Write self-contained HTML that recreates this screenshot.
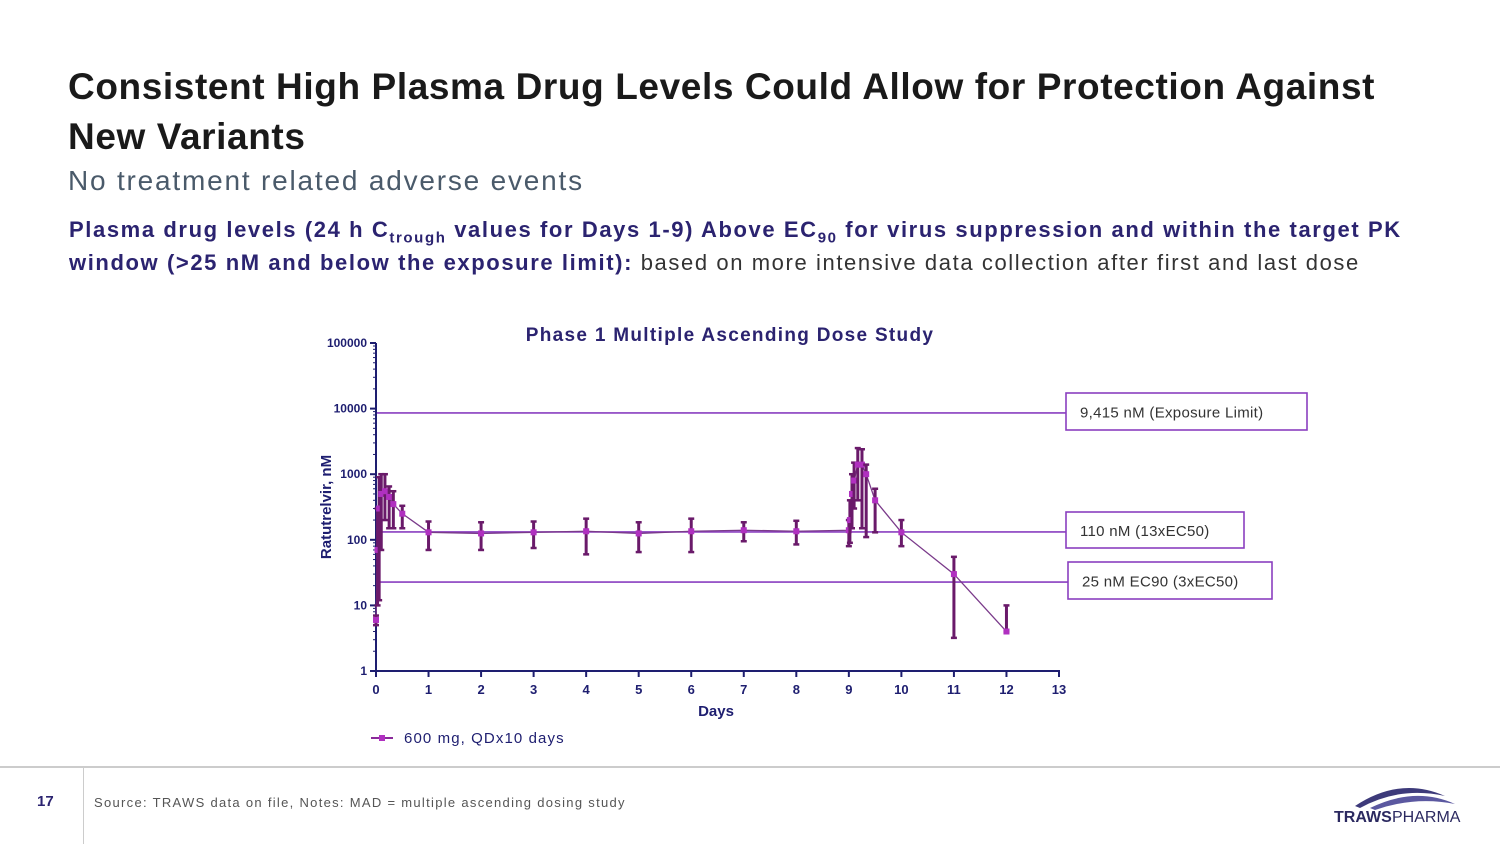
<!DOCTYPE html>
<html><head><meta charset="utf-8">
<style>
body{margin:0;width:1500px;height:844px;background:#fff;font-family:"Liberation Sans",sans-serif;position:relative;overflow:hidden}
.t{position:absolute;white-space:nowrap}
sub{line-height:0}
</style></head><body>
<div class="t" style="left:68px;top:62px;font-size:37px;font-weight:bold;color:#1a1a1a;line-height:50px;letter-spacing:0.6px">Consistent High Plasma Drug Levels Could Allow for Protection Against<br>New Variants</div>
<div class="t" style="left:68px;top:165px;font-size:28px;color:#4a5a6a;letter-spacing:1.8px">No treatment related adverse events</div>
<div class="t" style="left:69px;top:213px;font-size:22px;color:#2b2370;line-height:33px;letter-spacing:1.6px"><b>Plasma drug levels (24 h C<sub style="font-size:15px">trough</sub> values for Days 1-9) Above EC<sub style="font-size:15px">90</sub> for virus suppression and within the target PK</b><br><b>window (&gt;25 nM and below the exposure limit):</b> <span style="color:#333">based on more intensive data collection after first and last dose</span></div>
<svg id="chart" width="1500" height="844" style="position:absolute;left:0;top:0" font-family="Liberation Sans, sans-serif"></svg>
<div style="position:absolute;left:0;top:766px;width:1500px;height:2px;background:#ccc"></div>
<div style="position:absolute;left:83px;top:768px;width:1px;height:76px;background:#ccc"></div>
<div class="t" style="left:37px;top:793px;font-size:15px;font-weight:bold;color:#2b2370">17</div>
<div class="t" style="left:94px;top:795px;font-size:13px;color:#555;letter-spacing:1.3px">Source: TRAWS data on file, Notes: MAD = multiple ascending dosing study</div>
<svg style="position:absolute;left:1330px;top:778px" width="140" height="50">
<path d="M25 28 Q70 -2 115 18 Q70 8 30 30Z" fill="#3d3a7a"/><path d="M40 30 Q85 8 125 26 Q85 18 45 32Z" fill="#5b58a0"/>
<text x="4" y="44" font-size="16" font-weight="bold" fill="#2b2960">TRAWS</text><text x="62" y="44" font-size="16" fill="#2b2960">PHARMA</text></svg>
<script>
const days=[0,0.03,0.06,0.1,0.17,0.25,0.33,0.5,1,2,3,4,5,6,7,8,9,9.02,9.06,9.1,9.17,9.25,9.33,9.5,10,11,12];
const means=[6,70,300,500,550,450,350,250,130,125,130,135,125,135,140,135,140,200,500,800,1400,1400,1000,400,130,30,4];
const lows=[5,10,12,70,200,150,150,150,70,70,75,60,65,65,95,85,80,90,150,300,400,150,110,130,80,3.2,4];
const highs=[7,300,900,1000,1000,650,550,330,190,185,190,210,185,210,185,195,200,400,1000,1500,2500,2400,1400,600,200,55,10];
const refVals=[8600,132,22.7];
const refLabels=["9,415 nM (Exposure Limit)","110 nM (13xEC50)","25 nM EC90 (3xEC50)"];
const xTicks=[0,1,2,3,4,5,6,7,8,9,10,11,12,13];
const yTicks=[1,10,100,1000,10000,100000];
const svg=document.getElementById('chart');const NS='http://www.w3.org/2000/svg';
const X=d=>376+d*(1059-376)/13;const Y=v=>671-Math.log10(v)*65.6;
function mk(t,a,p){const e=document.createElementNS(NS,t);for(const k in a)e.setAttribute(k,a[k]);(p||svg).appendChild(e);return e;}
let e;
e=mk('text',{x:730,y:341,'text-anchor':'middle','font-size':19,'font-weight':'bold',fill:'#2b2370','letter-spacing':1.3});e.textContent='Phase 1 Multiple Ascending Dose Study';


const bw=[[1066,393,241,37],[1066,512,178,36],[1068,562,204,37]];
refVals.forEach((v,i)=>{
 e=mk('line',{x1:376,x2:bw[i][0],y1:Y(v),y2:Y(v),stroke:'#8a3fc0','stroke-width':1.6});
 
 
 e=mk('rect',{x:bw[i][0],y:bw[i][1],width:bw[i][2],height:bw[i][3],fill:'#fff',stroke:'#8a3fc0','stroke-width':1.6});
 
 
 e=mk('text',{x:bw[i][0]+14,y:bw[i][1]+bw[i][3]/2+6,'font-size':15,fill:'#333','letter-spacing':0.3});e.textContent=refLabels[i];
 
 
});
mk('line',{x1:376,x2:376,y1:343,y2:671,stroke:'#1e1e70','stroke-width':2});
mk('line',{x1:376,x2:1060,y1:671,y2:671,stroke:'#1e1e70','stroke-width':2});
xTicks.forEach(t=>{mk('line',{x1:X(t),x2:X(t),y1:671,y2:677,stroke:'#1e1e70','stroke-width':2});
 e=mk('text',{x:X(t),y:694,'text-anchor':'middle','font-size':13,'font-weight':'bold',fill:'#1e1e70'});e.textContent=t;
 
 });
yTicks.forEach((t,i)=>{mk('line',{x1:370,x2:376,y1:Y(t),y2:Y(t),stroke:'#1e1e70','stroke-width':2});
 if(i<5)for(let m=2;m<10;m++)mk('line',{x1:373,x2:376,y1:Y(t*m),y2:Y(t*m),stroke:'#1e1e70','stroke-width':1});
 e=mk('text',{x:367,y:Y(t)+4,'text-anchor':'end','font-size':12,'font-weight':'bold',fill:'#1e1e70'});e.textContent=t;
 
 });
e=mk('text',{x:716,y:716,'text-anchor':'middle','font-size':15,'font-weight':'bold',fill:'#1e1e70'});e.textContent='Days';


e=mk('text',{x:0,y:0,transform:'translate(331,507) rotate(-90)','text-anchor':'middle','font-size':15,'font-weight':'bold',fill:'#1e1e70'});e.textContent='Ratutrelvir, nM';


e=mk('polyline',{points:days.map((d,i)=>X(d)+','+Y(means[i])).join(' '),fill:'none',stroke:'#7a3a8a','stroke-width':1.3});


days.forEach((d,i)=>{const g=mk('g',{});
 
 
 mk('line',{x1:X(d),x2:X(d),y1:Y(lows[i]),y2:Y(highs[i]),stroke:'#6a1a6a','stroke-width':3},g);
 [lows[i],highs[i]].forEach(v=>mk('line',{x1:X(d)-3,x2:X(d)+3,y1:Y(v),y2:Y(v),stroke:'#6a1a6a','stroke-width':2.5},g));
 mk('rect',{x:X(d)-3,y:Y(means[i])-3,width:6,height:6,fill:'#b030c0'},g);});
mk('line',{x1:371,x2:393,y1:738,y2:738,stroke:'#8a2a9a','stroke-width':2});
mk('rect',{x:379,y:735,width:6,height:6,fill:'#b030c0'});
e=mk('text',{x:404,y:743,'font-size':15,fill:'#1e1e70','letter-spacing':1.1});e.textContent='600 mg, QDx10 days';


</script>
</body></html>
